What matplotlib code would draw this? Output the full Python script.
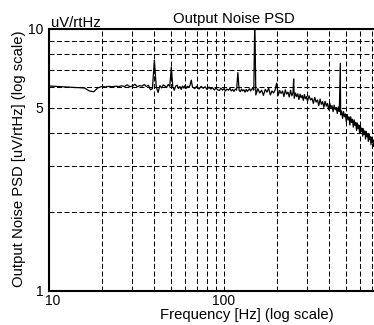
import numpy as np
import matplotlib
matplotlib.use("Agg")
import matplotlib.pyplot as plt
import matplotlib.transforms as mtransforms
from matplotlib.ticker import FixedLocator, FixedFormatter

plt.rcParams['font.family'] = ['Liberation Sans', 'DejaVu Sans']

# noise spectrum, low part (10..150 Hz)
freq_low = [10, 11, 12, 13, 14, 15, 16, 17, 18, 19, 20, 21, 22, 23, 24, 25, 26, 27, 28, 29,
            30, 31, 32, 33, 34, 35, 36, 37, 38, 39, 40, 41, 42, 43, 44, 45, 46, 47, 48, 49,
            50, 51, 52, 53, 54, 55, 56, 57, 58, 59, 60, 61, 62, 63, 64, 65, 66, 68, 70, 72,
            74, 76, 78, 80, 82, 84, 86, 88, 90, 92, 94, 96, 98, 100, 102, 104, 106, 108, 110, 112,
            114, 116, 118, 120, 122, 124, 126, 128, 130, 132, 134, 136, 138, 140, 142, 144, 146, 148, 150]
psd_low = [6.06, 6.04, 6.02, 6.00, 5.98, 5.97, 5.95, 5.80, 5.76, 5.96, 6.03, 6.01, 6.04, 6.02, 6.05, 6.03, 6.07, 6.03, 6.12, 6.02,
           6.06, 6.15, 6.02, 6.08, 6.05, 6.14, 6.03, 6.10, 5.86, 5.92, 7.62, 6.02, 5.72, 6.08, 5.96, 6.12, 6.06, 5.98, 6.14, 6.04,
           7.15, 6.00, 5.84, 6.06, 6.10, 5.92, 6.03, 5.88, 6.06, 5.95, 6.10, 5.94, 6.05, 5.98, 6.12, 6.38, 6.02, 5.92, 6.05, 5.90,
           6.04, 5.94, 6.02, 5.88, 6.00, 5.90, 5.97, 5.85, 5.95, 5.86, 5.82, 5.95, 5.84, 5.92, 5.80, 5.90, 5.84, 5.94, 5.80, 5.88,
           5.78, 5.90, 5.84, 6.82, 5.85, 5.76, 5.90, 5.80, 5.86, 5.74, 5.88, 5.78, 5.85, 5.92, 5.80, 5.88, 5.96, 5.84, 11.0]

# high part (150..720 Hz), dense and noisy
freq_high = [152, 156, 160, 164, 168, 172, 176, 180, 184, 188, 192, 196, 200, 204, 208, 212, 216, 220, 224, 228,
             232, 236, 240, 244, 248, 250, 252, 256, 260, 264, 268, 272, 276, 280, 284, 288, 292, 296, 300, 306,
             312, 318, 324, 330, 336, 342, 348, 354, 360, 366, 372, 378, 384, 390, 396, 402, 408, 414, 420, 426,
             432, 438, 444, 450, 456, 462, 464, 470, 476, 482, 488, 494, 500, 506, 512, 518, 524, 530, 536, 542,
             548, 554, 560, 566, 572, 578, 584, 590, 596, 602, 608, 614, 620, 626, 632, 638, 644, 650, 656, 662,
             668, 674, 680, 686, 692, 698, 704, 710, 716, 722]
psd_high = [5.60, 5.92, 5.70, 5.84, 5.58, 5.88, 5.74, 5.95, 5.60, 5.80, 5.70, 5.86, 6.22, 5.58, 5.82, 5.68, 5.80, 5.52, 5.86, 5.64,
            5.74, 5.50, 5.84, 5.56, 5.72, 6.45, 5.44, 5.70, 5.52, 5.66, 5.38, 5.64, 5.46, 5.58, 5.34, 5.62, 5.42, 5.52, 5.30, 5.56,
            5.36, 5.44, 5.20, 5.48, 5.26, 5.36, 5.10, 5.40, 5.16, 5.28, 5.02, 5.30, 5.08, 5.20, 4.92, 5.22, 5.00, 5.10, 4.84, 5.12,
            4.92, 5.02, 4.76, 5.04, 4.84, 7.40, 4.70, 4.86, 4.56, 4.84, 4.62, 4.74, 4.42, 4.72, 4.50, 4.62, 4.30, 4.62, 4.40, 4.52,
            4.22, 4.50, 4.28, 4.40, 4.10, 4.38, 4.16, 4.30, 4.00, 4.28, 4.06, 4.18, 3.90, 4.16, 3.96, 4.08, 3.80, 4.06, 3.88, 3.98,
            3.72, 3.96, 3.78, 3.88, 3.62, 3.86, 3.68, 3.78, 3.56, 3.72]

freq = np.array(freq_low + freq_high)
psd = np.array(psd_low + psd_high)

x_grid = [10, 20, 30, 40, 50, 60, 70, 80, 90, 100, 200, 300, 400, 500, 600, 700, 800, 900, 1000]
x_labels = ["10", "", "", "", "", "", "", "", "", "100", "", "", "", "", "", "", "", "", ""]
y_grid = [1, 2, 3, 4, 5, 6, 7, 8, 9, 10]
y_labels = ["1", "", "", "", "5", "", "", "", "", "10"]

W, H = 374, 325
fig = plt.figure(figsize=(W / 100, H / 100), dpi=100)
# axes runs past the right edge of the picture, as in the original
ax = fig.add_axes([49 / W, 34 / H, 350 / W, 262 / H])

ax.plot(freq, psd, color='black', lw=0.9)

ax.set_xscale('log')
ax.set_yscale('log')
ax.set_xlim(10, 1000)
ax.set_ylim(1, 10)

ax.xaxis.set_major_locator(FixedLocator(x_grid))
ax.xaxis.set_major_formatter(FixedFormatter(x_labels))
ax.xaxis.set_minor_locator(FixedLocator([]))
ax.yaxis.set_major_locator(FixedLocator(y_grid))
ax.yaxis.set_major_formatter(FixedFormatter(y_labels))
ax.yaxis.set_minor_locator(FixedLocator([]))
ax.tick_params(length=0, labelsize=10, pad=4)
ax.tick_params(axis='x', pad=2)

# the "10" under the corner sits a little to the right
lbl = ax.get_xticklabels()[0]
lbl.set_transform(lbl.get_transform() + mtransforms.ScaledTranslation(4 / 100, 0, fig.dpi_scale_trans))

ax.grid(True, which='major', color='black', lw=0.75, linestyle=(0, (4.8, 2.4)))

for s in ['left', 'bottom', 'top']:
    ax.spines[s].set_linewidth(1.5)
ax.spines['right'].set_visible(False)

fig.text(234 / W, 1 - 23 / H, "Output Noise PSD", ha='center', va='baseline', fontsize=10.7)
fig.text(51 / W, 1 - 27 / H, "uV/rtHz", ha='left', va='baseline', fontsize=10.7)
fig.text(246.5 / W, 1 - 318.5 / H, "Frequency [Hz] (log scale)", ha='center', va='baseline', fontsize=10.7)
fig.text(19 / W, 1 - 158.5 / H, "Output Noise PSD [uV/rtHz] (log scale)", rotation=90,
         ha='center', va='center', fontsize=10.7)

fig.savefig("out.png", dpi=100)
